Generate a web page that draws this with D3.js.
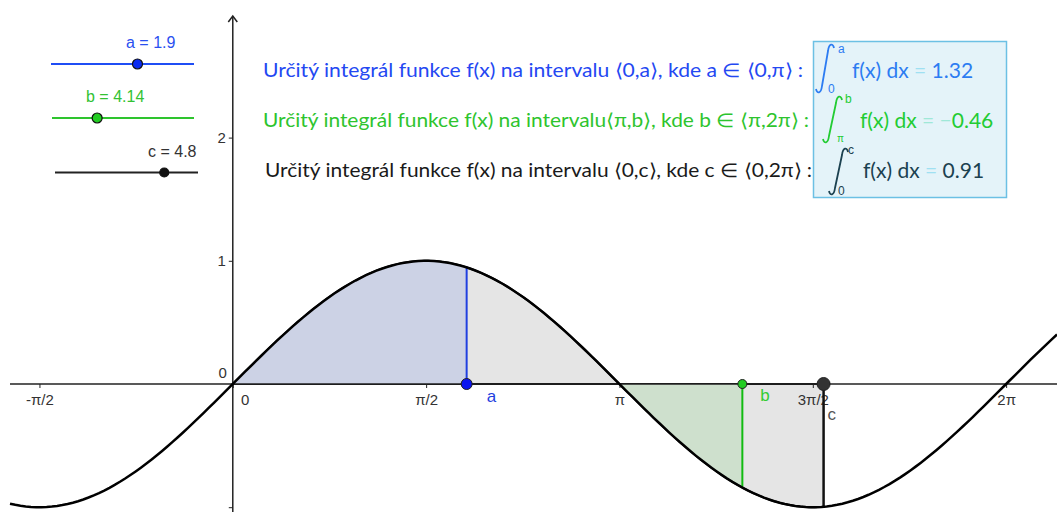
<!DOCTYPE html>
<html>
<head>
<meta charset="utf-8">
<script src="https://cdn.jsdelivr.net/npm/d3@7"></script>
<style>
  body { margin: 0; background: #fff; }
  svg { display: block; }
</style>
</head>
<body>
<div id="graph"></div>
<script>
const W = 1057, H = 512;
const PI = Math.PI;

// slider parameters
const sliderNames = ["a", "b", "c"];
const sliderValues = [1.9, 4.14, 4.8];
const sliderMin = [0, PI, 0];
const sliderMax = [PI, 2 * PI, 2 * PI];
const sliderColors = ["#1f4df5", "#2ec42e", "#222222"];
const labelColors = ["#2a50f0", "#33c233", "#333333"];

// integral results shown in the box
const integralLower = ["0", "π", "0"];
const integralValues = ["1.32", "−0.46", "0.91"];
const boxColors = ["#2c7cf2", "#22cc33", "#1b4150"];
const eqColors = ["#9fe0f2", "#9fe8d8", "#9fe0f2"];

// heading text lines
const headLines = [
  "Určitý integrál funkce f(x) na intervalu ⟨0,a⟩, kde a ∈ ⟨0,π⟩ :",
  "Určitý integrál funkce f(x) na intervalu⟨π,b⟩, kde b ∈ ⟨π,2π⟩ :",
  "Určitý integrál funkce f(x) na intervalu ⟨0,c⟩, kde c ∈ ⟨0,2π⟩ :"
];
const headColors = ["#2448f2", "#2ec42e", "#1a1a1a"];

// axis ticks
const xTickValues = [-PI / 2, 0, PI / 2, PI, 3 * PI / 2, 2 * PI];
const xTickLabels = ["-π/2", "0", "π/2", "π", "3π/2", "2π"];
const yTickValues = [-1, 1, 2];
const yTickLabels = ["", "1", "2"];

// the plotted function f(x) = sin(x)
const f = Math.sin;

const svg = d3.select("#graph").append("svg")
  .attr("width", W).attr("height", H);

const x = d3.scaleLinear().domain([-1.8913, 6.6964]).range([0, W]);
const y = d3.scaleLinear().domain([-1.039, 3.117]).range([H, 0]);

const [a, b, c] = sliderValues;
const sansFont = "Liberation Sans, Arial, sans-serif";

function samples(x0, x1) {
  const n = 200, out = [];
  for (let i = 0; i <= n; i++) out.push(x0 + (x1 - x0) * i / n);
  return out;
}
const area = d3.area().x(d => x(d)).y0(y(0)).y1(d => y(f(d)));

// regions
svg.append("path").datum(samples(0, c)).attr("d", area)
  .attr("fill", "#e5e5e5").attr("stroke", "#111").attr("stroke-width", 2);
svg.append("path").datum(samples(0, a)).attr("d", area)
  .attr("fill", "#ccd2e5");
svg.append("path").datum(samples(PI, b)).attr("d", area)
  .attr("fill", "#cee0cd");

// axes
const axisCol = "#222";
svg.append("line").attr("x1", 10).attr("x2", W).attr("y1", y(0)).attr("y2", y(0))
  .attr("stroke", axisCol).attr("stroke-width", 1.3);
svg.append("line").attr("x1", x(0)).attr("x2", x(0)).attr("y1", 16).attr("y2", H)
  .attr("stroke", axisCol).attr("stroke-width", 1.5);
svg.append("path").attr("d", `M${x(0) - 4.5},${22} L${x(0)},${16} L${x(0) + 4.5},${22}`)
  .attr("fill", "none").attr("stroke", axisCol).attr("stroke-width", 1.5);

const xAxis = svg.append("g").attr("transform", `translate(0,${y(0)})`)
  .call(d3.axisBottom(x).tickValues(xTickValues).tickSize(4)
    .tickFormat((d, i) => xTickLabels[i]));
xAxis.select(".domain").remove();
xAxis.selectAll("line").attr("stroke", axisCol);
xAxis.selectAll("text").attr("fill", "#333").attr("dy", "0.95em")
  .style("font-family", sansFont).style("font-size", "15px")
  .attr("dx", d => d === 0 ? 12 : 0);

const yAxis = svg.append("g").attr("transform", `translate(${x(0)},0)`)
  .call(d3.axisLeft(y).tickValues(yTickValues).tickSize(4).tickPadding(3)
    .tickFormat((d, i) => yTickLabels[i]));
yAxis.select(".domain").remove();
yAxis.selectAll("line").attr("stroke", axisCol);
yAxis.selectAll("text").attr("fill", "#333")
  .style("font-family", sansFont).style("font-size", "15px");
svg.append("text").attr("x", x(0) - 6).attr("y", y(0) - 6).attr("text-anchor", "end")
  .attr("fill", "#333").style("font-family", sansFont)
  .style("font-size", "15px").text("0");

// vertical segments at a, b, c
const segs = [[a, "#1f3fe0"], [b, "#11bb11"], [c, "#111"]];
svg.selectAll(".seg").data(segs).enter().append("line")
  .attr("x1", d => x(d[0])).attr("x2", d => x(d[0]))
  .attr("y1", y(0)).attr("y2", d => y(f(d[0])))
  .attr("stroke", d => d[1]).attr("stroke-width", 2);

// curve
svg.append("path").datum(samples(x.invert(10), x.domain()[1]))
  .attr("d", d3.line().x(d => x(d)).y(d => y(f(d))))
  .attr("fill", "none").attr("stroke", "#000").attr("stroke-width", 2.5);

// points on x-axis
const ptFill = ["#0a14f0", "#22cc22", "#333333"];
const ptR = [5.5, 4.5, 6.5];
svg.selectAll(".pt").data(sliderValues).enter().append("circle")
  .attr("cx", d => x(d)).attr("cy", y(0)).attr("r", (d, i) => ptR[i])
  .attr("fill", (d, i) => ptFill[i]).attr("stroke", "#222").attr("stroke-width", 1);
const ptLabelDx = [20, 18, 4];
const ptLabelDy = [18, 17, 36];
svg.selectAll(".ptl").data(sliderValues).enter().append("text")
  .attr("x", (d, i) => x(d) + ptLabelDx[i]).attr("y", (d, i) => y(0) + ptLabelDy[i])
  .attr("fill", (d, i) => ["#1f3fe0", "#33cc33", "#555"][i])
  .style("font-family", sansFont).style("font-size", "17px")
  .text((d, i) => sliderNames[i]);

// sliders
const sliderX = [[51, 194], [52, 194], [55, 198]];
const sliderY = [64, 118, 172.5];
const sliderLabelX = [126, 86, 148];
sliderNames.forEach((n, i) => {
  const s = d3.scaleLinear().domain([sliderMin[i], sliderMax[i]]).range(sliderX[i]);
  svg.append("line").attr("x1", sliderX[i][0]).attr("x2", sliderX[i][1])
    .attr("y1", sliderY[i]).attr("y2", sliderY[i])
    .attr("stroke", sliderColors[i]).attr("stroke-width", 2);
  svg.append("circle").attr("cx", s(sliderValues[i])).attr("cy", sliderY[i])
    .attr("r", i === 2 ? 4.5 : 5)
    .attr("fill", ["#0a2af0", "#22cc22", "#111"][i]).attr("stroke", "#111").attr("stroke-width", 1.2);
  svg.append("text").attr("x", sliderLabelX[i]).attr("y", sliderY[i] - 16)
    .attr("fill", labelColors[i])
    .style("font-family", sansFont).style("font-size", "16px")
    .text(n + " = " + sliderValues[i]);
});

// heading lines
const headX = [263, 263, 265];
const headY = [77, 127, 177];
const headLen = [540, 546, 547];
svg.selectAll(".head").data(headLines).enter().append("text")
  .attr("x", (d, i) => headX[i]).attr("y", (d, i) => headY[i])
  .attr("fill", (d, i) => headColors[i])
  .attr("textLength", (d, i) => headLen[i]).attr("lengthAdjust", "spacingAndGlyphs")
  .style("font-family", "Lato, 'Open Sans', sans-serif").style("font-size", "19px")
  .text(d => d);

// result box
svg.append("rect").attr("x", 813.5).attr("y", 41.5).attr("width", 193).attr("height", 156)
  .attr("fill", "#e4f3f9").attr("stroke", "#6cc0e4").attr("stroke-width", 1.5);

// integral sign boxes: left, top, right, bottom
const intBox = [[816, 44, 834, 93], [823, 96, 842, 143], [829, 148, 848, 195]];
const supPos = [[838, 53], [845, 103], [848, 154]];
const subPos = [[828, 93], [837, 142], [838, 195]];
const exprX = [852, 860, 863];
const exprY = [78, 128, 178];
integralValues.forEach((v, i) => {
  const g = svg.append("g").attr("fill", boxColors[i]);
  const [L, T, R, B] = intBox[i];
  g.append("path")
    .attr("d", `M${L},${B - 4} C${L + 1},${B + 1} ${L + 5},${B + 1} ${L + 6},${B - 7}` +
      ` L${R - 6},${T + 7} C${R - 5},${T - 1} ${R - 1},${T - 1} ${R},${T + 4}`)
    .attr("fill", "none").attr("stroke", boxColors[i]).attr("stroke-width", 1.8);
  g.append("text").attr("x", supPos[i][0]).attr("y", supPos[i][1])
    .style("font-family", sansFont).style("font-size", "12px")
    .text(sliderNames[i]);
  g.append("text").attr("x", subPos[i][0]).attr("y", subPos[i][1])
    .style("font-family", sansFont).style("font-size", i === 1 ? "10px" : "12px")
    .text(integralLower[i]);
  const t = g.append("text").attr("x", exprX[i]).attr("y", exprY[i])
    .style("font-family", "Lato, 'Open Sans', sans-serif").style("font-size", "21px");
  t.append("tspan").text("f(x) dx ");
  const parts = v.startsWith("−") ? ["= −", v.slice(1)] : ["= ", v];
  t.append("tspan").attr("fill", eqColors[i]).text(parts[0]);
  t.append("tspan").text(parts[1]);
});
</script>
</body>
</html>
